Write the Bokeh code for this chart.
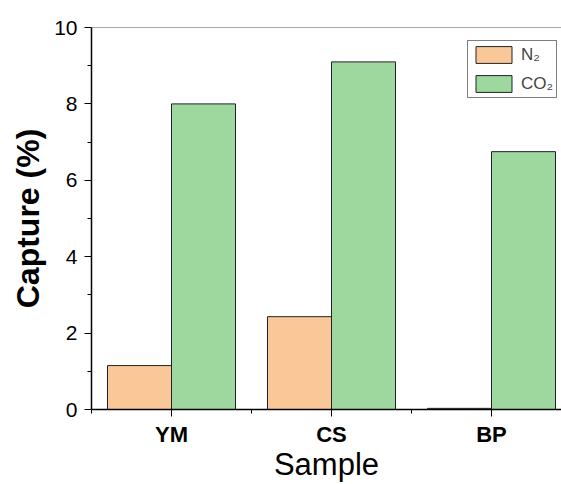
from bokeh.plotting import figure
from bokeh.models import (ColumnDataSource, Range1d, FixedTicker, Span, Legend, LegendItem)
from bokeh.transform import dodge
from bokeh.embed import file_html
from bokeh.resources import INLINE

samples = ["YM", "CS", "BP"]
n2 = [1.15, 2.43, 0.03]
co2 = [8.0, 9.1, 6.75]
series_names = ["N\u2082", "CO\u2082"]
colors = ["#FAC898", "#9ED89E"]

centers = [i + 0.5 for i in range(len(samples))]
src = ColumnDataSource(dict(x=centers, n2=n2, co2=co2))

p = figure(width=561, height=484, output_backend="svg", toolbar_location=None,
           x_range=Range1d(0, 2.9375), y_range=Range1d(0, 10),
           min_border_left=91, min_border_right=0, min_border_top=27, min_border_bottom=75)

r1 = p.vbar(x=dodge("x", -0.2, range=p.x_range), top="n2", width=0.4, source=src,
            fill_color=colors[0], line_color="#222222", line_width=1)
r2 = p.vbar(x=dodge("x", 0.2, range=p.x_range), top="co2", width=0.4, source=src,
            fill_color=colors[1], line_color="#222222", line_width=1)

p.xgrid.visible = False
p.ygrid.visible = False
p.outline_line_color = None
p.background_fill_color = "white"
p.border_fill_color = "white"

font = "Liberation Sans"
# x axis
p.xaxis.ticker = FixedTicker(ticks=centers, minor_ticks=[0, 1, 2])
p.xaxis.major_label_overrides = {c: s for c, s in zip(centers, samples)}
p.xaxis.axis_label = "Sample"
p.xaxis.axis_label_text_font = font
p.xaxis.axis_label_text_font_style = "normal"
p.xaxis.axis_label_text_font_size = "31px"
p.xaxis.axis_label_standoff = -3
p.xaxis.major_label_text_font = font
p.xaxis.major_label_text_font_style = "bold"
p.xaxis.major_label_text_font_size = "22px"
p.xaxis.major_label_standoff = 5

# y axis
p.yaxis.ticker = FixedTicker(ticks=[0, 2, 4, 6, 8, 10], minor_ticks=[1, 3, 5, 7, 9])
p.yaxis.axis_label = "Capture (%)"
p.yaxis.axis_label_text_font = font
p.yaxis.axis_label_text_font_style = "bold"
p.yaxis.axis_label_text_font_size = "32px"
p.yaxis.axis_label_standoff = 5
p.yaxis.major_label_text_font = font
p.yaxis.major_label_text_font_size = "21px"
p.yaxis.major_label_standoff = 7

for ax in (p.xaxis[0], p.yaxis[0]):
    ax.axis_line_color = "black"
    ax.axis_line_width = 1.5
    ax.major_tick_line_color = "black"
    ax.minor_tick_line_color = "black"
    ax.major_tick_in = 0
    ax.major_tick_out = 7
    ax.minor_tick_in = 0
    ax.minor_tick_out = 4
    ax.major_label_text_color = "black"
    ax.axis_label_text_color = "black"

p.add_layout(Span(location=10, dimension="width", line_color="#555555", line_width=1))

legend = Legend(items=[LegendItem(label=series_names[0], renderers=[r1]),
                       LegendItem(label=series_names[1], renderers=[r2])],
                location=(376, 311))
legend.label_text_font = font
legend.label_text_font_size = "17px"
legend.glyph_width = 45
legend.glyph_height = 21
legend.padding = 3
legend.spacing = 8
legend.label_standoff = 5
legend.margin = 0
legend.border_line_color = "black"
legend.border_line_width = 1
legend.background_fill_alpha = 1
p.add_layout(legend, "center")

open("out.html", "w").write(file_html(p, INLINE))
